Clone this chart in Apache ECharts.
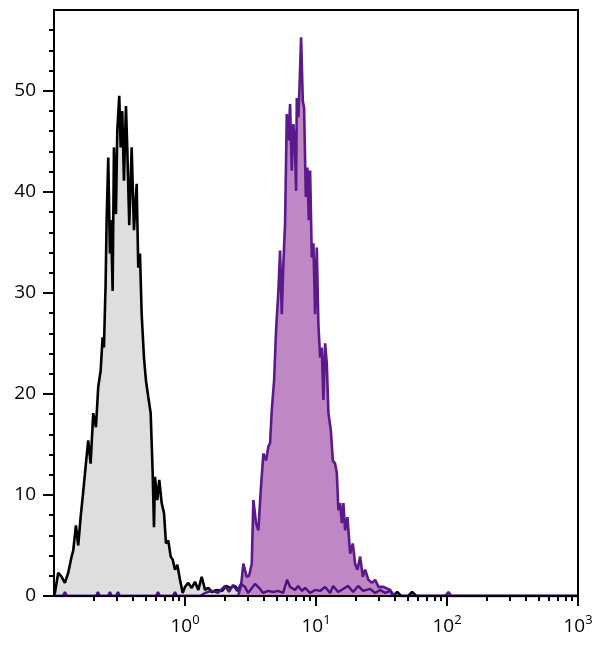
<!DOCTYPE html>
<html><head><meta charset="utf-8">
<script src="https://cdn.jsdelivr.net/npm/echarts@6/dist/echarts.min.js"></script>
<style>html,body{margin:0;padding:0;background:#fff}#c{width:600px;height:654px}</style>
</head><body><div id="c"></div>
<script>
// Control (unstained) histogram - grey fill, black line
const ctrlX = [0.1,0.1016,0.1077,0.1143,0.1211,0.1284,0.1363,0.1402,0.1470,0.1531,0.1597,0.1671,0.1752,0.1825,0.1904,0.1993,0.2090,0.2176,0.2270,0.2350,0.2405,0.2478,0.2522,0.2595,0.2673,0.2721,0.2803,0.2868,0.2971,0.3040,0.3149,0.3228,0.3319,0.3420,0.3542,0.3624,0.3754,0.3916,0.4077,0.4276,0.4398,0.4532,0.4669,0.4862,0.5036,0.5244,0.5470,0.5665,0.5797,0.5900,0.6143,0.6363,0.6637,0.6913,0.7160,0.7454,0.7776,0.8054,0.8387,0.8733,0.9159,0.9603,1.0,1.060,1.125,1.192,1.264,1.341,1.422,1.505,1.600,1.747,1.918,2.057,2.207,2.410,2.632,3.138,38.8,41.66,44.7,50.5,54.2,58.2,1000];
const ctrlY = [0,0.3,2.3,1.9,1.3,2.3,3.9,4.5,7.0,5.0,7.8,10.3,13.1,15.4,13.1,18.1,16.7,20.7,22.3,25.6,24.6,30.9,37.2,43.4,33.9,37.2,30.2,44.4,37.8,46.0,49.5,44.4,48.0,41.1,48.5,44.4,36.7,44.4,36.2,40.8,32.5,33.9,27.9,23.6,21.3,19.7,18.1,12.2,6.8,11.8,9.5,11.5,9.2,8.2,5.2,5.5,3.9,3.6,2.6,3.1,1.6,0.3,0.9,1.3,0.8,1.4,0.6,1.9,0.6,0.8,0.4,0.6,0.5,1.0,0.8,1.0,0.3,0,0,0.4,0,0,0.4,0,0];

// Stained histogram - purple fill, dark purple line
const stainX = [0.1,2.541,2.677,2.789,2.960,3.083,3.233,3.325,3.486,3.631,3.788,3.965,4.158,4.329,4.460,4.596,4.786,4.957,5.162,5.318,5.480,5.636,5.807,5.983,6.154,6.341,6.533,6.720,6.924,7.047,7.134,7.337,7.468,7.695,7.929,8.113,8.360,8.598,8.810,9.015,9.288,9.553,9.842,10.14,10.43,10.75,11.07,11.39,11.74,12.09,12.44,12.98,13.44,13.99,14.41,14.83,15.28,15.74,16.19,16.69,17.38,18.22,19.10,19.89,20.71,21.73,22.78,23.72,25.14,26.69,28.29,29.98,32.73,36.83,39.03,40.92,96.9,102.7,107.7,1000];
const stainY = [0,0,1.0,3.2,1.9,2.0,3.2,9.5,7.2,6.5,10.5,14.1,13.4,14.8,15.1,18.4,21.3,26.3,30.2,34.2,27.9,32.9,36.9,47.7,45.1,48.7,42.1,46.7,44.1,40.1,49.3,47.4,50.0,55.3,49.0,48.3,39.5,42.4,37.2,42.1,33.5,34.9,27.9,34.5,26.9,23.6,24.6,19.4,25.0,23.0,18.1,16.4,13.4,13.1,12.2,8.5,9.2,7.2,9.2,6.5,7.8,4.2,5.2,3.2,2.6,3.9,1.9,2.6,1.6,1.3,1.6,0.9,0.9,0.6,0.1,0,0,0.4,0,0];

// Low background trace - dark purple line
const baseX = [0.1,0.1169,0.1211,0.1254,0.2090,0.2165,0.2242,0.2581,0.2673,0.2769,0.2971,0.3078,0.3187,0.6005,0.6218,0.6441,0.8096,0.8387,0.8687,1.302,1.422,1.608,1.787,2.021,2.168,2.326,2.496,2.677,2.873,3.029,3.425,3.741,3.944,4.305,4.702,5.135,5.607,6.015,6.341,6.924,7.298,7.830,8.257,9.015,9.842,10.75,11.74,12.82,13.51,14.75,16.11,17.59,19.20,20.97,22.90,25.90,28.29,30.89,33.73,36.83,38.82,1000];
const baseY = [0,0,0.4,0,0,0.4,0,0,0.4,0,0,0.4,0,0,0.4,0,0,0.4,0,0,0.3,0.5,0.3,1.0,0.4,1.1,0.5,1.2,0.9,0.3,1.2,0.7,0.3,0.5,0.4,0.5,0.3,1.6,0.9,0.6,1.0,0.5,0.8,0.3,0.6,0.5,0.9,0.3,1.0,0.4,0.7,1.0,0.4,1.0,0.5,0.7,0.3,0.6,0.3,0.5,0,0];

// Axis ticks
const xMajorTicks = [1, 10, 100, 1000];
const xMinorTicks = [0.2,0.3,0.4,0.5,0.6,0.7,0.8,0.9,2,3,4,5,6,7,8,9,20,30,40,50,60,70,80,90,200,300,400,500,600,700,800,900];
const yMajorTicks = [0, 10, 20, 30, 40, 50];
const yMinorTicks = [2,4,6,8,12,14,16,18,22,24,26,28,32,34,36,38,42,44,46,48,52,54,56];

const zip = (xs, ys) => xs.map((x, i) => [x, ys[i]]);
const FONT = 'Open Sans';
const chart = echarts.init(document.getElementById('c'), null, {renderer: 'canvas'});

const logAxisBase = {
  type: 'log', logBase: 10, min: 0.1, max: 1000, position: 'bottom', z: 10,
  splitLine: {show: false}, minorTick: {show: false}, minorSplitLine: {show: false}
};
const valAxisBase = {
  type: 'value', min: 0, max: 58, position: 'left', z: 10,
  splitLine: {show: false}, minorTick: {show: false}
};

chart.setOption({
  animation: false,
  backgroundColor: '#fff',
  grid: {left: 54, right: 22, top: 10, bottom: 58, show: true, borderColor: '#000', borderWidth: 2, backgroundColor: 'transparent', containLabel: false},
  xAxis: [
    Object.assign({}, logAxisBase, {
      axisLine: {show: true, lineStyle: {color: '#000', width: 2}},
      axisTick: {show: true, customValues: xMajorTicks, length: 10, lineStyle: {color: '#000', width: 2}},
      axisLabel: {
        show: true, customValues: xMajorTicks, margin: 18, color: '#000',
        formatter: v => '{b|10}{s|' + Math.round(Math.log10(v)) + '}',
        rich: {
          b: {fontSize: 19, fontFamily: FONT, color: '#000', lineHeight: 26},
          s: {fontSize: 13, fontFamily: FONT, color: '#000', lineHeight: 13, verticalAlign: 'top'}
        }
      }
    }),
    Object.assign({}, logAxisBase, {
      axisLine: {show: false},
      axisTick: {show: true, customValues: xMinorTicks, length: 5, lineStyle: {color: '#000', width: 2}},
      axisLabel: {show: false}
    })
  ],
  yAxis: [
    Object.assign({}, valAxisBase, {
      axisLine: {show: true, lineStyle: {color: '#000', width: 2}},
      axisTick: {show: true, customValues: yMajorTicks, length: 11, lineStyle: {color: '#000', width: 2}},
      axisLabel: {show: true, customValues: yMajorTicks, margin: 18, color: '#000', fontSize: 19, fontFamily: FONT}
    }),
    Object.assign({}, valAxisBase, {
      axisLine: {show: false},
      axisTick: {show: true, customValues: yMinorTicks, length: 5, lineStyle: {color: '#000', width: 2}},
      axisLabel: {show: false}
    })
  ],
  series: [
    {
      name: 'Control', type: 'line', xAxisIndex: 0, yAxisIndex: 0, data: zip(ctrlX, ctrlY),
      showSymbol: false, symbol: 'none', z: 2,
      lineStyle: {color: '#000', width: 2.6}, areaStyle: {color: '#DEDEDE', opacity: 1}
    },
    {
      name: 'Stained', type: 'line', xAxisIndex: 0, yAxisIndex: 0, data: zip(stainX, stainY),
      showSymbol: false, symbol: 'none', z: 3,
      lineStyle: {color: '#5A1A8C', width: 2.6}, areaStyle: {color: '#BF88C4', opacity: 1}
    },
    {
      name: 'Background', type: 'line', xAxisIndex: 0, yAxisIndex: 0, data: zip(baseX, baseY),
      showSymbol: false, symbol: 'none', z: 4,
      lineStyle: {color: '#4A1480', width: 2.4}
    }
  ]
});
</script></body></html>
